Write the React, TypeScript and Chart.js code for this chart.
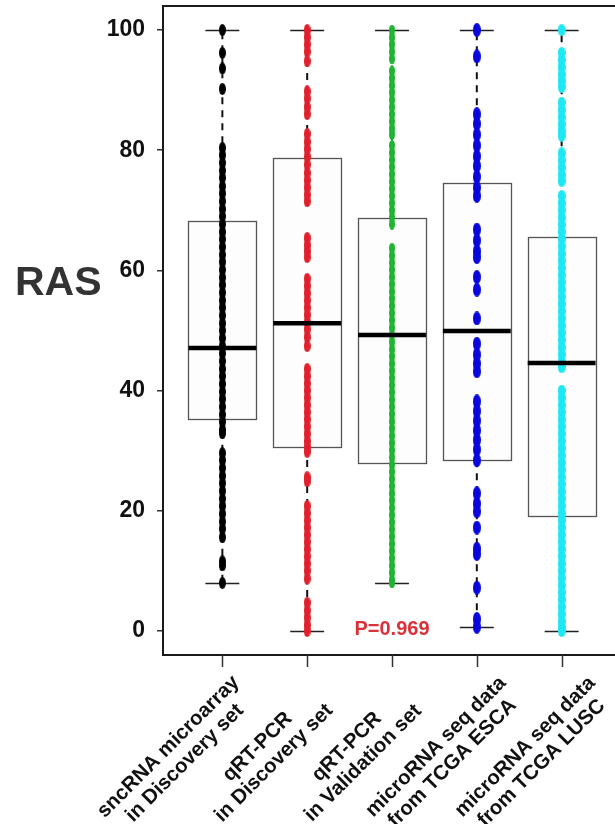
import React, { useEffect, useRef } from 'react';
import { Chart, registerables } from 'chart.js';

Chart.register(...registerables);

// ---------------- data ----------------
const CATEGORY_LABELS: string[][] = [
  ['sncRNA microarray', 'in Discovery set'],
  ['qRT-PCR', 'in Discovery set'],
  ['qRT-PCR', 'in Validation set'],
  ['microRNA seq data', 'from TCGA ESCA'],
  ['microRNA seq data', 'from TCGA LUSC'],
];
const Y_TICKS = [0, 20, 40, 60, 80, 100];
const Y_TITLE = 'RAS';
const P_LABEL = 'P=0.969';

const BOX_Q1 = [35.3, 30.6, 27.9, 28.4, 19.0];
const BOX_MEDIAN = [47.1, 51.2, 49.25, 49.9, 44.6];
const BOX_Q3 = [68.2, 78.7, 68.7, 74.5, 65.5];
const WHISKER_LOW = [8.0, 0, 8.0, 0.7, 0];
const WHISKER_HIGH = [100, 100, 100, 100, 100];

const POINTS_MICROARRAY = [
  100, 96.2, 93.6, 90.2, 80.4, 79.2, 77.9, 76.6, 75.4, 74.0, 72.8, 71.5, 70.2, 69.0,
  67.7, 66.4, 65.2, 63.9, 62.6, 61.4, 60.1, 58.8, 57.6, 56.3, 55.0, 53.8, 52.5, 51.2,
  50.0, 48.7, 47.4, 46.2, 44.9, 43.6, 42.4, 41.1, 39.8, 38.6, 37.3, 36.0, 34.8, 33.5,
  32.9, 29.6, 28.4, 27.1, 25.8, 24.6, 23.3, 22.0, 20.8, 19.5, 18.2, 17.0, 15.6, 11.6,
  10.9, 8.0,
];
const POINTS_QPCR_DISCOVERY = [
  100, 98.8, 97.6, 96.4, 94.8, 89.8, 88.6, 87.2, 86.0, 82.7, 81.4, 80.2, 78.9, 77.6,
  76.2, 75.0, 73.8, 72.6, 71.5, 65.4, 64.2, 63.2, 62.2, 58.6, 57.4, 56.2, 55.0, 53.8,
  52.6, 51.4, 50.2, 48.9, 47.4, 43.6, 42.4, 41.2, 40.0, 38.8, 37.6, 36.4, 35.2, 34.0,
  32.8, 31.6, 30.6, 29.8, 25.6, 24.9, 20.8, 19.6, 18.4, 17.2, 16.0, 14.8, 13.6, 12.4,
  11.2, 10.0, 8.7, 4.7, 3.4, 2.2, 1.0, 0,
];
const POINTS_QPCR_VALIDATION = [
  100, 98.8, 97.6, 96.4, 95.2, 93.2, 92.0, 90.8, 89.6, 88.4, 87.2, 86.0, 84.8, 83.6,
  82.6, 80.8, 79.6, 78.4, 77.2, 76.0, 74.8, 73.6, 72.4, 71.2, 70.0, 68.8, 67.7, 63.7,
  62.5, 61.3, 60.1, 58.9, 57.7, 56.5, 55.3, 54.1, 52.9, 51.7, 50.5, 49.3, 48.1, 46.9,
  45.7, 44.5, 43.3, 42.1, 40.9, 39.7, 38.5, 37.3, 36.1, 34.9, 33.7, 32.5, 31.3, 30.1,
  28.9, 27.7, 26.5, 25.3, 24.1, 22.9, 21.7, 20.5, 19.3, 18.1, 16.9, 15.7, 14.5, 13.3,
  12.1, 10.9, 9.7, 8.5, 8.0,
];
const POINTS_TCGA_ESCA = [
  100, 95.6, 86.0, 84.4, 82.6, 80.8, 79.0, 77.4, 75.6, 73.8, 72.4, 66.8, 65.0, 63.2,
  62.2, 58.9, 56.8, 52.0, 47.8, 46.0, 44.5, 43.2, 38.2, 36.6, 35.0, 33.4, 31.8, 30.2,
  28.4, 22.9, 21.2, 19.9, 17.2, 13.7, 12.8, 7.2, 2.0, 0.7,
];
const POINTS_TCGA_LUSC = [
  100, 96.2, 95.0, 93.8, 92.6, 91.5, 90.5, 87.9, 86.7, 85.5, 84.3, 83.2, 82.4, 79.5,
  78.3, 77.1, 75.9, 74.9, 72.4, 71.2, 70.0, 68.8, 67.6, 66.4, 65.2, 64.0, 62.8, 61.6,
  60.4, 59.2, 58.0, 56.8, 55.6, 54.4, 53.2, 52.0, 50.8, 49.6, 48.4, 47.2, 46.0, 44.8,
  43.9, 40.0, 38.8, 37.6, 36.4, 35.2, 34.0, 32.8, 31.6, 30.4, 29.2, 28.0, 26.8, 25.6,
  24.4, 23.2, 22.0, 20.8, 19.6, 18.4, 17.2, 16.0, 14.8, 13.6, 12.4, 11.2, 10.0, 8.8,
  7.6, 6.4, 5.2, 4.0, 2.8, 1.6, 0.6, 0,
];
const SERIES_POINTS = [
  POINTS_MICROARRAY,
  POINTS_QPCR_DISCOVERY,
  POINTS_QPCR_VALIDATION,
  POINTS_TCGA_ESCA,
  POINTS_TCGA_LUSC,
];
const SERIES_COLORS = ['#000000', '#E0202B', '#1FB533', '#0808DC', '#1CE8F4'];
const SERIES_DOT_SIZE: [number, number][] = [[7, 12], [7, 12], [6, 11], [8, 14], [8, 12]];

// ---------------- styles ----------------
const FONT = '"Liberation Sans", Arial, Helvetica, sans-serif';
const BOX_HALF = 0.4;
const CAP_HALF = 0.2;
const X_MIN = 0.3;
const X_MAX = 5.7;
const Y_MIN = -4;
const Y_MAX = 104;
const LABEL_FONT_PX = 20.5;
const LABEL_LINE_H = 23;
const LABEL_DX = -37.5;
const LABEL_DX_STEP = 4.2;
const LABEL_DY = 100;

function makeEllipse(color: string, w: number, h: number) {
  const c = document.createElement('canvas');
  c.width = w;
  c.height = h;
  const g = c.getContext('2d')!;
  g.fillStyle = color;
  g.beginPath();
  g.ellipse(w / 2, h / 2, w / 2, h / 2, 0, 0, Math.PI * 2);
  g.fill();
  return c;
}

const boxPlugin = {
  id: 'boxPlot',
  beforeDatasetsDraw(chart: any) {
    const { ctx, scales } = chart;
    const x = scales.x;
    const y = scales.y;
    ctx.save();
    BOX_Q1.forEach((q1, i) => {
      const c = i + 1;
      const cx = x.getPixelForValue(c);
      const left = x.getPixelForValue(c - BOX_HALF);
      const right = x.getPixelForValue(c + BOX_HALF);
      const top = y.getPixelForValue(BOX_Q3[i]);
      const bot = y.getPixelForValue(q1);
      // whiskers (dashed)
      ctx.strokeStyle = '#111';
      ctx.lineWidth = 2;
      ctx.setLineDash([7, 6]);
      ctx.beginPath();
      ctx.moveTo(cx, top);
      ctx.lineTo(cx, y.getPixelForValue(WHISKER_HIGH[i]));
      ctx.moveTo(cx, bot);
      ctx.lineTo(cx, y.getPixelForValue(WHISKER_LOW[i]));
      ctx.stroke();
      ctx.setLineDash([]);
      // caps
      ctx.lineWidth = 1.5;
      ctx.strokeStyle = '#222';
      const cl = x.getPixelForValue(c - CAP_HALF);
      const cr = x.getPixelForValue(c + CAP_HALF);
      [WHISKER_HIGH[i], WHISKER_LOW[i]].forEach((v) => {
        const py = Math.round(y.getPixelForValue(v)) + 0.5;
        ctx.beginPath();
        ctx.moveTo(cl, py);
        ctx.lineTo(cr, py);
        ctx.stroke();
      });
      // box
      ctx.fillStyle = '#FDFDFD';
      ctx.fillRect(left, top, right - left, bot - top);
      ctx.strokeStyle = '#555';
      ctx.lineWidth = 1.3;
      ctx.strokeRect(Math.round(left) + 0.5, Math.round(top) + 0.5, Math.round(right - left), Math.round(bot - top));
    });
    ctx.restore();
  },
  afterDatasetsDraw(chart: any) {
    const { ctx, scales, chartArea } = chart;
    const x = scales.x;
    const y = scales.y;
    ctx.save();
    // medians
    ctx.strokeStyle = '#000';
    ctx.lineWidth = 4.5;
    BOX_MEDIAN.forEach((m, i) => {
      const c = i + 1;
      const py = y.getPixelForValue(m);
      ctx.beginPath();
      ctx.moveTo(x.getPixelForValue(c - BOX_HALF), py);
      ctx.lineTo(x.getPixelForValue(c + BOX_HALF), py);
      ctx.stroke();
    });
    // frame
    ctx.strokeStyle = '#1a1a1a';
    ctx.lineWidth = 2;
    ctx.strokeRect(chartArea.left, chartArea.top, chartArea.right - chartArea.left, chartArea.bottom - chartArea.top);
    // x ticks + labels
    ctx.lineWidth = 1.5;
    ctx.strokeStyle = '#333';
    ctx.fillStyle = '#111';
    ctx.font = `bold ${LABEL_FONT_PX}px ${FONT}`;
    CATEGORY_LABELS.forEach((lines, i) => {
      const cx = Math.round(x.getPixelForValue(i + 1)) + 0.5;
      ctx.beginPath();
      ctx.moveTo(cx, chartArea.bottom);
      ctx.lineTo(cx, chartArea.bottom + 12);
      ctx.stroke();
      ctx.save();
      ctx.translate(cx + LABEL_DX + LABEL_DX_STEP * (i - 2), chartArea.bottom + LABEL_DY);
      ctx.rotate(-Math.PI / 4);
      ctx.textAlign = 'center';
      ctx.textBaseline = 'middle';
      lines.forEach((l, j) => ctx.fillText(l, 0, (j - (lines.length - 1) / 2) * LABEL_LINE_H));
      ctx.restore();
    });
    // y title
    ctx.font = `bold 41px ${FONT}`;
    ctx.fillStyle = '#333';
    ctx.textAlign = 'left';
    ctx.textBaseline = 'alphabetic';
    ctx.fillText(Y_TITLE, 15, 295);
    // p value
    ctx.font = `bold 20px ${FONT}`;
    ctx.fillStyle = '#D8323A';
    ctx.textAlign = 'center';
    ctx.fillText(P_LABEL, x.getPixelForValue(3), y.getPixelForValue(-0.7));
    ctx.restore();
  },
};

export default function App() {
  const ref = useRef<HTMLCanvasElement>(null);
  useEffect(() => {
    if (!ref.current) return;
    const datasets = SERIES_POINTS.map((pts, i) => {
      const [w, h] = SERIES_DOT_SIZE[i];
      return {
        label: CATEGORY_LABELS[i].join(' '),
        data: pts.map((v) => ({ x: i + 1, y: v })),
        pointStyle: makeEllipse(SERIES_COLORS[i], w, h),
        pointRadius: 4,
        showLine: false,
      };
    });
    const chart = new Chart(ref.current, {
      type: 'scatter',
      data: { datasets },
      options: {
        responsive: false,
        maintainAspectRatio: false,
        devicePixelRatio: 1,
        animation: false,
        layout: { padding: { left: 0, top: 6, right: 19, bottom: 169 } },
        plugins: { legend: { display: false }, tooltip: { enabled: false } },
        scales: {
          x: { type: 'linear', min: X_MIN, max: X_MAX, display: false },
          y: {
            type: 'linear',
            min: Y_MIN,
            max: Y_MAX,
            afterBuildTicks: (s: any) => {
              s.ticks = Y_TICKS.map((v) => ({ value: v }));
            },
            afterFit: (s: any) => {
              s.width = 163;
              s.paddingTop = 0;
              s.paddingBottom = 0;
            },
            border: { display: false },
            grid: { drawOnChartArea: false, drawTicks: true, tickLength: 6, color: '#333', lineWidth: 1.5 },
            ticks: {
              padding: 12,
              color: '#111',
              font: { family: FONT, size: 23, weight: 'bold' },
            },
          },
        },
      },
      plugins: [boxPlugin],
    } as any);
    return () => chart.destroy();
  }, []);
  return (
    <div style={{ position: 'fixed', left: 0, top: 0, width: 615, height: 824, overflow: 'hidden', background: '#fff' }}>
      <canvas ref={ref} width={640} height={824} style={{ display: 'block', width: 640, height: 824 }} />
    </div>
  );
}
